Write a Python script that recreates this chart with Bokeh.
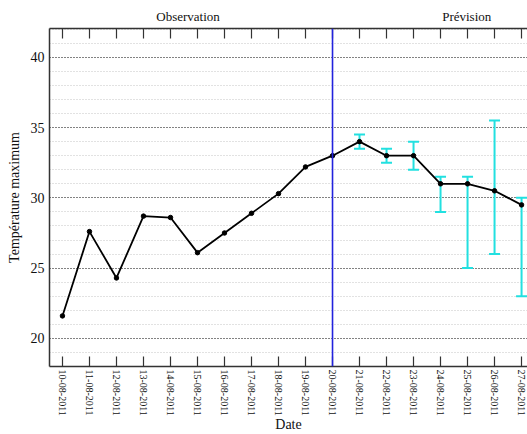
import math
from bokeh.plotting import figure
from bokeh.models import (LinearAxis, FixedTicker, SingleIntervalTicker, Range1d,
                          ColumnDataSource, Whisker, TeeHead, Span)
from bokeh.embed import file_html
from bokeh.resources import INLINE

# ---- data ----
days = [10, 11, 12, 13, 14, 15, 16, 17, 18, 19, 20, 21, 22, 23, 24, 25, 26, 27]
date_labels = ["%02d-08-2011" % d for d in days]
temps = [21.6, 27.6, 24.3, 28.7, 28.6, 26.1, 27.5, 28.9, 30.3, 32.2, 33.0,
         34.0, 33.0, 33.0, 31.0, 31.0, 30.5, 29.5]
fc_days = [21, 22, 23, 24, 25, 26, 27]
fc_lower = [33.5, 32.5, 32.0, 29.0, 25.0, 26.0, 23.0]
fc_upper = [34.5, 33.5, 34.0, 31.5, 31.5, 35.5, 30.0]
split_day = 20
section_labels = ["Observation", "Prévision"]
section_pos = [14.65, 24.97]

FONT = "Liberation Serif"
TXT = "#111111"

p = figure(width=527, height=434, output_backend="svg", toolbar_location=None,
           x_range=Range1d(9.52, 27.22), y_range=Range1d(18.0, 42.05),
           min_border_left=49, min_border_right=0, min_border_top=28,
           min_border_bottom=67, x_axis_location=None, y_axis_location=None)
p.outline_line_color = None
p.background_fill_color = "white"
p.border_fill_color = "white"

# y axis
yax = LinearAxis(ticker=SingleIntervalTicker(interval=5, num_minor_ticks=5))
yax.axis_label = "Température maximum"
yax.axis_label_text_font = FONT
yax.axis_label_text_font_style = "normal"
yax.axis_label_text_font_size = "14px"
yax.axis_label_text_color = TXT
yax.axis_label_standoff = 6
yax.major_label_text_font = FONT
yax.major_label_text_font_size = "14px"
yax.major_label_text_color = TXT
yax.major_label_standoff = 5
yax.major_tick_in = 0
yax.major_tick_out = 0
yax.minor_tick_in = 0
yax.minor_tick_out = 0
yax.axis_line_color = "#333333"
yax.axis_line_width = 1.5
p.add_layout(yax, "left")

# bottom axis
xax = LinearAxis(ticker=FixedTicker(ticks=days))
xax.major_label_overrides = {d: s for d, s in zip(days, date_labels)}
xax.major_label_orientation = "vertical"
xax.major_label_text_font = FONT
xax.major_label_text_font_size = "10px"
xax.major_label_text_color = TXT
xax.major_label_standoff = 3
xax.axis_label = "Date"
xax.axis_label_text_font = FONT
xax.axis_label_text_font_style = "normal"
xax.axis_label_text_font_size = "14px"
xax.axis_label_text_color = TXT
xax.axis_label_standoff = -2
xax.major_tick_in = 10
xax.major_tick_out = 0
xax.minor_tick_in = 0
xax.minor_tick_out = 0
xax.axis_line_color = "#333333"
xax.axis_line_width = 1.5
xax.major_tick_line_color = "#333333"
xax.major_tick_line_width = 1.2
p.add_layout(xax, "below")

# top axis with section labels
tax = LinearAxis(ticker=FixedTicker(ticks=section_pos, minor_ticks=days))
tax.major_label_overrides = {v: s for v, s in zip(section_pos, section_labels)}
tax.major_label_text_font = FONT
tax.major_label_text_font_size = "13px"
tax.major_label_text_color = TXT
tax.major_label_standoff = 5
tax.major_tick_in = 0
tax.major_tick_out = 0
tax.minor_tick_in = 10
tax.minor_tick_out = 0
tax.minor_tick_line_color = "#333333"
tax.minor_tick_line_width = 1.2
tax.axis_line_color = "#333333"
tax.axis_line_width = 1.5
p.add_layout(tax, "above")

# grids
p.xgrid.visible = False
p.ygrid.ticker = yax.ticker
p.ygrid.grid_line_color = "#222222"
p.ygrid.grid_line_dash = "1 2"
p.ygrid.grid_line_width = 1
p.ygrid.minor_grid_line_color = "#c4c4c4"
p.ygrid.minor_grid_line_dash = "1 2"
p.ygrid.minor_grid_line_width = 1

# split line
p.add_layout(Span(location=split_day, dimension="height", line_color="#2222dd",
                  line_width=1.6))

# error bars
src = ColumnDataSource(data=dict(x=fc_days, lo=fc_lower, hi=fc_upper))
wh = Whisker(base="x", lower="lo", upper="hi", source=src,
             line_color="#22e0e0", line_width=2,
             upper_head=TeeHead(size=11, line_color="#22e0e0", line_width=2),
             lower_head=TeeHead(size=11, line_color="#22e0e0", line_width=2))
p.add_layout(wh)

# main line
p.line(days, temps, line_color="black", line_width=1.8)
p.scatter(days, temps, size=4.5, color="black")

open("out.html", "w").write(file_html(p, INLINE))
